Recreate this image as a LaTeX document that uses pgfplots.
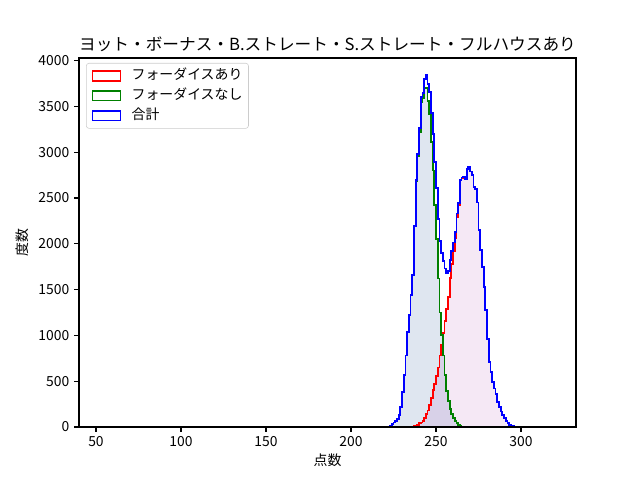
\documentclass[border=0pt]{standalone}
\usepackage{fontspec}
\setmainfont{Noto Sans CJK JP}
\usepackage{pgfplots}
\pgfplotsset{compat=1.18}
\definecolor{gfill}{RGB}{31,80,150}
\definecolor{rfill}{RGB}{148,0,148}
\definecolor{mgreen}{RGB}{0,128,0}
\begin{document}
\fontsize{10}{12}\selectfont
\begin{tikzpicture}
\useasboundingbox (-56.88pt,-38.16pt) rectangle (403.92pt,307.44pt);
\begin{axis}[
  at={(0,0)}, anchor=south west,
  scale only axis, width=357.84pt, height=265.68pt,
  xmin=40, xmax=332.35, ymin=0, ymax=4028,
  xtick={50,100,150,200,250,300},
  ytick={0,500,1000,1500,2000,2500,3000,3500,4000},
  scaled y ticks=false,
  /pgf/number format/1000 sep={},
  /pgf/number format/assume math mode=true,
  tick label style={font=\fontsize{10}{12}\selectfont},
  tick align=outside, xtick pos=bottom, ytick pos=left,
  major tick length=3.5pt,
  every tick/.style={black, line width=0.8pt},
  axis line style={line width=0.8pt},
  axis on top,
  title={ヨット・ボーナス・B.ストレート・S.ストレート・フルハウスあり},
  every axis title shift=0pt,
  title style={at={(axis description cs:0.5,1.036)}, anchor=center, font=\fontsize{12}{14}\selectfont},
  xlabel={点数}, ylabel={度数},
  xlabel style={at={(axis description cs:0.5,-0.0896)}, anchor=center},
  ylabel style={at={(axis description cs:-0.1146,0.5)}, anchor=center},
  const plot,
  legend cell align=left,
  legend image code/.code={\path (-2pt,0) (25pt,0); \draw[sharp corners, line width=1pt] (0pt,-3.5pt) rectangle (20pt,3.5pt);},
  legend style={at={(axis description cs:0.0141,0.9865)}, anchor=north west,
    draw={rgb,255:red,204;green,204;blue,204}, rounded corners=2pt,
    fill=white, fill opacity=0.8, text opacity=1,
    font=\fontsize{10}{12}\selectfont,
    nodes={text height=7.5pt, text depth=2pt, inner sep=2.4pt},
    inner xsep=2pt, inner ysep=2pt},
]
% fills
\addplot[draw=none, fill=gfill, fill opacity=0.14, forget plot] coordinates {
(222,0) (222,5) (223,15) (224,30) (225,50) (226,65) (227,85) (228,130) (229,220) (230,380)
(231,570) (232,780) (233,1038) (234,1217) (235,1436) (236,1655) (237,2190) (238,2685) (239,2955) (240,3220)
(241,3550) (242,3585) (243,3700) (244,3700) (245,3560) (246,3420) (247,3110) (248,2800) (249,2420) (250,2050)
(251,1620) (252,1250) (253,1000) (254,780) (255,570) (256,390) (257,280) (258,195) (259,140) (260,95)
(261,65) (262,40) (263,22) (264,10) (265,4) (266,0)} \closedcycle;
\addplot[draw=none, fill=rfill, fill opacity=0.09, forget plot] coordinates {
(233,0) (233,2) (234,3) (235,4) (236,5) (237,8) (238,15) (239,25) (240,40)
(241,50) (242,65) (243,100) (244,140) (245,180) (246,240) (247,320) (248,400) (249,470) (250,560)
(251,650) (252,780) (253,900) (254,1030) (255,1160) (256,1290) (257,1420) (258,1630) (259,1780) (260,1920)
(261,2060) (262,2290) (263,2420) (264,2690) (265,2720) (266,2730) (267,2710) (268,2820) (269,2840) (270,2790)
(271,2750) (272,2620) (273,2600) (274,2450) (275,2150) (276,1930) (277,1750) (278,1530) (279,1280) (280,960)
(281,710) (282,600) (283,490) (284,420) (285,360) (286,270) (287,220) (288,170) (289,130) (290,95)
(291,65) (292,40) (293,25) (294,15) (295,10) (296,5) (297,2) (298,0)} \closedcycle;
% outlines
\addplot[red, line width=1.3pt] coordinates {
(233,0) (233,2) (234,3) (235,4) (236,5) (237,8) (238,15) (239,25) (240,40)
(241,50) (242,65) (243,100) (244,140) (245,180) (246,240) (247,320) (248,400) (249,470) (250,560)
(251,650) (252,780) (253,900) (254,1030) (255,1160) (256,1290) (257,1420) (258,1630) (259,1780) (260,1920)
(261,2060) (262,2290) (263,2420) (264,2690) (265,2720) (266,2730) (267,2710) (268,2820) (269,2840) (270,2790)
(271,2750) (272,2620) (273,2600) (274,2450) (275,2150) (276,1930) (277,1750) (278,1530) (279,1280) (280,960)
(281,710) (282,600) (283,490) (284,420) (285,360) (286,270) (287,220) (288,170) (289,130) (290,95)
(291,65) (292,40) (293,25) (294,15) (295,10) (296,5) (297,2) (298,0)};
\addlegendentry{フォーダイスあり}
\addplot[mgreen, line width=1.3pt] coordinates {
(222,0) (222,5) (223,15) (224,30) (225,50) (226,65) (227,85) (228,130) (229,220) (230,380)
(231,570) (232,780) (233,1038) (234,1217) (235,1436) (236,1655) (237,2190) (238,2685) (239,2955) (240,3220)
(241,3550) (242,3585) (243,3700) (244,3700) (245,3560) (246,3420) (247,3110) (248,2800) (249,2420) (250,2050)
(251,1620) (252,1250) (253,1000) (254,780) (255,570) (256,390) (257,280) (258,195) (259,140) (260,95)
(261,65) (262,40) (263,22) (264,10) (265,4) (266,0)};
\addlegendentry{フォーダイスなし}
\addplot[blue, line width=1.3pt] coordinates {
(222,0) (222,5) (223,15) (224,30) (225,50) (226,65) (227,85) (228,130) (229,220) (230,380)
(231,570) (232,780) (233,1040) (234,1220) (235,1440) (236,1660) (237,2198) (238,2700) (239,2980) (240,3260)
(241,3600) (242,3650) (243,3800) (244,3840) (245,3740) (246,3660) (247,3430) (248,3200) (249,2890) (250,2610)
(251,2270) (252,2030) (253,1900) (254,1810) (255,1730) (256,1680) (257,1700) (258,1825) (259,1920) (260,2015)
(261,2125) (262,2330) (263,2442) (264,2700) (265,2724) (266,2730) (267,2710) (268,2820) (269,2840) (270,2790)
(271,2750) (272,2620) (273,2600) (274,2450) (275,2150) (276,1930) (277,1750) (278,1530) (279,1280) (280,960)
(281,710) (282,600) (283,490) (284,420) (285,360) (286,270) (287,220) (288,170) (289,130) (290,95)
(291,65) (292,40) (293,25) (294,15) (295,10) (296,5) (297,2) (298,0)};
\addlegendentry{合計}
\end{axis}
\end{tikzpicture}
\end{document}
